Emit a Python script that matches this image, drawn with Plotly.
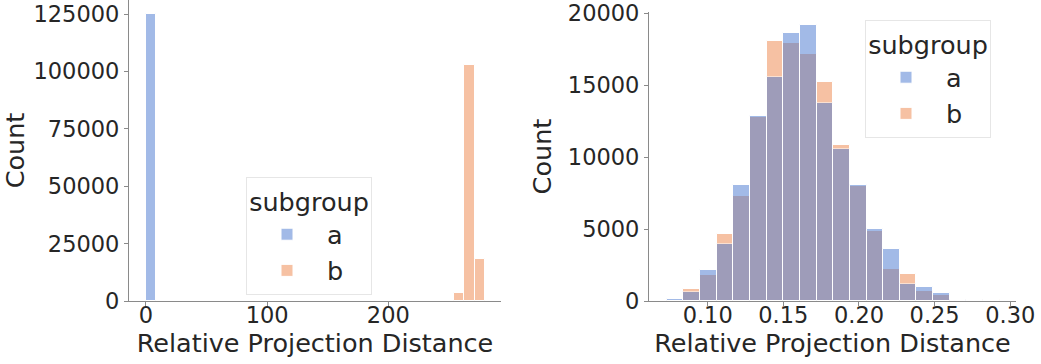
import plotly.graph_objects as go

# ---- data -------------------------------------------------------------
# Left panel: histogram of raw relative projection distance (33 bins, only
# the occupied bins are listed)
left_bin_width = 8.47
left_a_edges = [0.07]
left_a_counts = [124900]
left_b_edges = [254.2, 262.7, 271.2]
left_b_counts = [3600, 102900, 18300]

# Right panel: histogram of the same quantity after rescaling (20 bins)
right_edges = [0.073, 0.084, 0.095, 0.106, 0.117, 0.128, 0.139, 0.150,
               0.161, 0.172, 0.183, 0.194, 0.205, 0.216, 0.227, 0.238,
               0.249, 0.260, 0.271, 0.282, 0.293]
right_a_counts = [120, 600, 2130, 3950, 8075, 12870, 15550, 18630, 19180,
                  13720, 10530, 8050, 4980, 3580, 1200, 990, 530, 100, 60, 10]
right_b_counts = [60, 830, 1840, 4660, 7320, 12800, 18030, 17890, 17140,
                  15190, 10800, 7960, 4840, 2200, 1900, 710, 440, 100, 30, 60]

left_xticks = [0, 100, 200]
left_yticks = [0, 25000, 50000, 75000, 100000, 125000]
right_xticks = [0.10, 0.15, 0.20, 0.25, 0.30]
right_yticks = [0, 5000, 10000, 15000, 20000]

# ---- styling ----------------------------------------------------------
W, H = 1041, 364
BLUE = "#4878d0"
ORANGE = "#ee854a"
TEXT = "#262626"
SPINE = "#8a8a8a"
FONT = "DejaVu Sans"
TICK_SIZE = 22.5
LABEL_SIZE = 25.5

fig = go.Figure()


def add_hist(edges, counts, width, color, name, xa, ya, legend, rank):
    fig.add_trace(go.Bar(
        x=edges, y=counts, width=width, offset=0,
        name=name, marker=dict(color=color, line=dict(color="white", width=1)),
        opacity=0.5, xaxis=xa, yaxis=ya, legend=legend, legendrank=rank,
    ))


# subgroup b is drawn first so that a sits on top of it
rw = right_edges[1] - right_edges[0]
add_hist(left_b_edges, left_b_counts, left_bin_width, ORANGE, "b", "x", "y", "legend", 2)
add_hist(left_a_edges, left_a_counts, left_bin_width, BLUE, "a", "x", "y", "legend", 1)
add_hist(right_edges[:-1], right_b_counts, rw, ORANGE, "b", "x2", "y2", "legend2", 2)
add_hist(right_edges[:-1], right_a_counts, rw, BLUE, "a", "x2", "y2", "legend2", 1)

axis_common = dict(
    showgrid=False, zeroline=False, showline=True, linecolor=SPINE, linewidth=1.2,
    ticks="outside", ticklen=4, tickcolor=SPINE, tickwidth=1.2,
    tickfont=dict(family=FONT, size=TICK_SIZE, color=TEXT),
    ticklabeloverflow="allow", automargin=False,
)
xaxis_extra = dict(ticklabelstandoff=-10)
title_font = dict(family=FONT, size=LABEL_SIZE, color=TEXT)

y_bottom = 1 - 301 / H


def legend_box(x_px, y_px):
    return dict(
        x=x_px / W, y=1 - y_px / H, xanchor="left", yanchor="top",
        title=dict(text="subgroup", side="top center", font=title_font),
        font=dict(family=FONT, size=LABEL_SIZE, color=TEXT),
        bordercolor="#e6e6e6", borderwidth=1, bgcolor="rgba(255,255,255,0.8)",
        itemwidth=70, tracegroupgap=0,
    )


fig.update_layout(
    width=W, height=H, margin=dict(l=0, r=0, t=0, b=0, autoexpand=False),
    paper_bgcolor="white", plot_bgcolor="white",
    barmode="overlay", bargap=0,
    font=dict(family=FONT, color=TEXT),
    xaxis=dict(domain=[129 / W, 501 / W], range=[-14.0, 293.0],
               tickvals=left_xticks, ticktext=[str(v) for v in left_xticks],
               anchor="y",
               title=dict(text="Relative Projection Distance", font=title_font, standoff=0),
               **axis_common, **xaxis_extra),
    yaxis=dict(domain=[y_bottom, 1.0], range=[0, 131200],
               tickvals=left_yticks, ticktext=[str(v) for v in left_yticks],
               anchor="x",
               title=dict(text="Count", font=title_font, standoff=8),
               **axis_common),
    xaxis2=dict(domain=[649 / W, 1016 / W], range=[0.0612, 0.3038],
                tickvals=right_xticks, ticktext=[f"{v:.2f}" for v in right_xticks],
                anchor="y2",
                title=dict(text="Relative Projection Distance", font=title_font, standoff=0),
                **axis_common, **xaxis_extra),
    yaxis2=dict(domain=[y_bottom, 1 - 12 / H], range=[0, 20070],
                tickvals=right_yticks, ticktext=[str(v) for v in right_yticks],
                anchor="x2",
                title=dict(text="Count", font=title_font, standoff=8),
                **axis_common),
    legend=legend_box(246, 177),
    legend2=legend_box(865, 20),
)

fig.write_html("out.html")
